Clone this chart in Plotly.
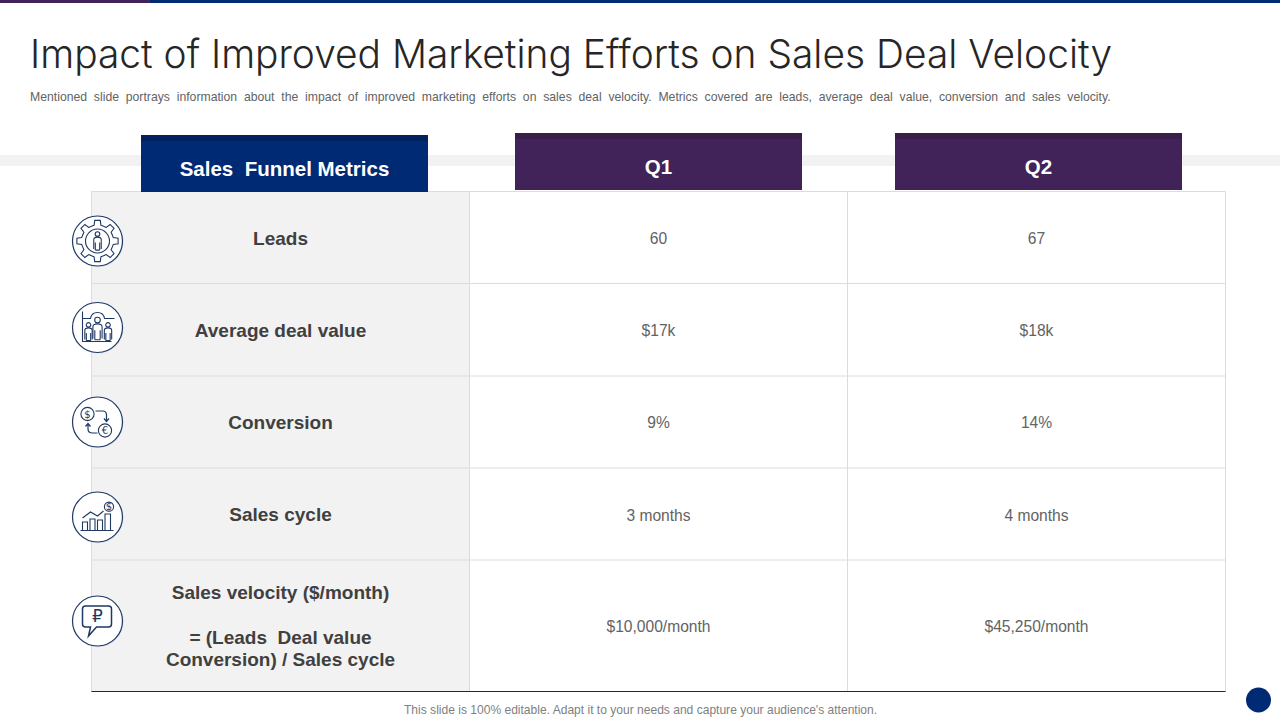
import math
import plotly.graph_objects as go

# ---- content ----
title = "Impact of Improved Marketing Efforts on Sales Deal Velocity"
subtitle = ("Mentioned  slide  portrays  information  about  the  impact  of  improved  marketing  efforts  on  sales  deal  "
            "velocity.  Metrics  covered  are  leads,  average  deal  value,  conversion  and  sales  velocity.")
footer = "This slide is 100% editable. Adapt it to your needs and capture your audience's attention."
headers = ["Sales  Funnel Metrics", "Q1", "Q2"]
metric_lines = ["Leads", "Average deal value", "Conversion", "Sales cycle",
                "Sales velocity ($/month)", "= (Leads  Deal value", "Conversion) / Sales cycle"]
q1_values = ["60", "$17k", "9%", "3 months", "$10,000/month"]
q2_values = ["67", "$18k", "14%", "4 months", "$45,250/month"]

# ---- layout geometry (pixels) ----
col_edges = [91.5, 469.5, 847.5, 1225.5]
row_edges = [191.5, 283.5, 376, 468, 560, 691.5]
label_y = [240, 332, 424, 516, 594, 639, 661]
value_y = [240, 332, 424, 517, 628]
header_boxes = [(141, 428, 135, 192), (515, 802, 133, 190), (895, 1182, 133, 190)]
icon_x = 97.5
icon_y = [241, 327.5, 422, 517, 621]

NAVY = "#012A74"
NAVY_DK = "#01225F"
PURPLE = "#412359"
PURPLE_DK = "#391E4C"
GREY = "#F2F2F2"
LINE = "#DCDCDC"
INK = "#1F3864"
VALUE_TEXT = "#636363"

shapes = []


def rect(x0, x1, y0, y1, fill, line=None, w=0):
    shapes.append(dict(type="rect", x0=x0, x1=x1, y0=y0, y1=y1, fillcolor=fill,
                       line=dict(color=line or fill, width=w), layer="below"))


def hline(x0, x1, y, color, w=1):
    shapes.append(dict(type="line", x0=x0, x1=x1, y0=y, y1=y, line=dict(color=color, width=w), layer="below"))


def vline(x, y0, y1, color, w=1):
    shapes.append(dict(type="line", x0=x, x1=x, y0=y0, y1=y1, line=dict(color=color, width=w), layer="below"))


def circ(cx, cy, r, fill="rgba(0,0,0,0)", line=INK, w=1.1, layer="above"):
    shapes.append(dict(type="circle", x0=cx - r, x1=cx + r, y0=cy - r, y1=cy + r, fillcolor=fill,
                       line=dict(color=line, width=w), layer=layer))


def path(cx, cy, cmds, w=1.1, fill="rgba(0,0,0,0)"):
    out = []
    for c in cmds:
        if isinstance(c, str):
            out.append(c)
        else:
            out.append(f"{cx + c[0]:.2f},{cy + c[1]:.2f}")
    shapes.append(dict(type="path", path=" ".join(out), fillcolor=fill, line=dict(color=INK, width=w), layer="above"))


def person(cx, cy, s=1.0, fill="rgba(0,0,0,0)"):
    circ(cx, cy - 6.6 * s, 2.1 * s, fill=fill)
    path(cx, cy, ["M", (-3.4 * s, 7 * s), "L", (-3.4 * s, -1.6 * s), "Q", (-3.4 * s, -3.8 * s), (0, -3.8 * s),
                  "Q", (3.4 * s, -3.8 * s), (3.4 * s, -1.6 * s), "L", (3.4 * s, 7 * s)], fill=fill)
    path(cx, cy, ["M", (-2 * s, 8 * s), "L", (-2 * s, 1 * s), "M", (2 * s, 8 * s), "L", (2 * s, 1 * s),
                  "M", (-2 * s, 8 * s), "L", (2 * s, 8 * s)], fill=fill)


# page furniture
rect(0, 150, 0, 3, PURPLE)
rect(150, 1280, 0, 3, NAVY)
rect(0, 1280, 155, 166, GREY)

# table body
rect(col_edges[0], col_edges[1], row_edges[0], row_edges[-1], GREY)
for y in row_edges[:-1]:
    hline(col_edges[0], col_edges[-1], y, LINE)
for x in col_edges:
    vline(x, row_edges[0], row_edges[-1], LINE)
hline(col_edges[0], col_edges[-1], row_edges[-1], "#14265C", 1)

# header blocks
for i, (x0, x1, y0, y1) in enumerate(header_boxes):
    rect(x0, x1, y0, y1, NAVY if i == 0 else PURPLE)
    rect(x0, x1, y0, y0 + 6, NAVY_DK if i == 0 else PURPLE_DK)

# badge bottom right
circ(1258.5, 700, 12.5, fill=NAVY, line=NAVY, w=0, layer="below")

# icon discs
for y in icon_y:
    circ(icon_x + 0.6, y + 0.6, 25.6, fill="rgba(200,215,240,0.45)", line="rgba(0,0,0,0)", w=0, layer="below")
    circ(icon_x, y, 25, fill="white", w=1.2, layer="below")

# icon 1: gear and person
cx, cy = icon_x, icon_y[0]
gear = []
teeth = 8
for k in range(teeth):
    a = 2 * math.pi * k / teeth - math.pi / 2
    step = 2 * math.pi / teeth
    pts = [(a - 0.27 * step, 16.2), (a - 0.17 * step, 20.8), (a + 0.17 * step, 20.8), (a + 0.27 * step, 16.2)]
    for j, (t, r) in enumerate(pts):
        gear += ["M" if (k == 0 and j == 0) else "L", (r * math.cos(t), r * math.sin(t))]
    t1, t2 = a + 0.27 * step, a + 0.73 * step
    tm = (t1 + t2) / 2
    gear += ["Q", (16.0 * math.cos(tm), 16.0 * math.sin(tm)), (16.2 * math.cos(t2), 16.2 * math.sin(t2))]
path(cx, cy, gear + ["Z"])
circ(cx, cy, 12)
person(cx, cy + 0.3, 1.1)

# icon 2: three people in a chart
cx, cy = icon_x, icon_y[1]
path(cx, cy, ["M", (-15, -16), "L", (-15, 14), "L", (14, 14)])
path(cx, cy, ["M", (-15, -9), "L", (-7, -9), "Q", (-6, -15), (0, -15), "Q", (6, -15), (7, -9), "L", (17, -9)])
person(cx, cy + 1.5, 1.35, fill="white")
person(cx - 9, cy + 4.5, 1.08, fill="white")
person(cx + 10.5, cy + 4.5, 1.08, fill="white")

# icon 3: currency exchange
cx, cy = icon_x, icon_y[2]
circ(cx - 10, cy - 8, 6.6)
circ(cx + 7.5, cy + 8.5, 6.6)
path(cx, cy, ["M", (-2, -11), "L", (5, -11), "Q", (9, -11), (9, -7), "L", (9, -1),
              "M", (6.5, -3.5), "L", (9, -0.5), "L", (11.5, -3.5)], w=1.2)
path(cx, cy, ["M", (0, 11), "L", (-5, 11), "Q", (-9.5, 11), (-9.5, 7), "L", (-9.5, 2),
              "M", (-12, 4.5), "L", (-9.5, 1.5), "L", (-7, 4.5)], w=1.2)

# icon 4: growing bars
cx, cy = icon_x, icon_y[3]
path(cx, cy, ["M", (-17, 13.5), "L", (16, 13.5)])
for x0, x1, top in [(-15, -10, 5), (-7.5, -2.5, 2), (0, 5, 3), (7.5, 13, -3)]:
    path(cx, cy, ["M", (x0, 13.5), "L", (x0, top), "L", (x1, top), "L", (x1, 13.5)])
path(cx, cy, ["M", (-15, 1), "L", (-7, -5), "L", (0, -1), "L", (6, -6)])
circ(cx + 11.5, cy - 10.3, 4.6)

# icon 5: speech bubble
cx, cy = icon_x, icon_y[4]
path(cx, cy, ["M", (-12, -15), "L", (11, -15), "Q", (14, -15), (14, -12), "L", (14, 3), "Q", (14, 6), (11, 6),
              "L", (-1, 6), "L", (-9, 15), "L", (-7, 6), "L", (-12, 6), "Q", (-15, 6), (-15, 3),
              "L", (-15, -12), "Q", (-15, -15), (-12, -15), "Z"], w=1.5)

fig = go.Figure()


def text_trace(x, y, text, size, color, family="Liberation Sans", bold=False):
    fig.add_trace(go.Scatter(
        x=x, y=y, text=text, mode="text", textposition="middle center", hoverinfo="skip", showlegend=False,
        textfont=dict(family=family, size=size, color=color, weight=700 if bold else 400)))


col_mid = [(col_edges[i] + col_edges[i + 1]) / 2 for i in range(3)]
text_trace([col_mid[0]] * len(metric_lines), label_y, metric_lines, 19, "#404040", bold=True)
text_trace([col_mid[1]] * 5, value_y, q1_values, 15.6, VALUE_TEXT)
text_trace([col_mid[2]] * 5, value_y, q2_values, 15.6, VALUE_TEXT)
text_trace([(b[0] + b[1]) / 2 for b in header_boxes], [170.5, 168.5, 168.5], headers, 20.5, "white", bold=True)
text_trace([icon_x - 10, icon_x + 7.5, icon_x + 11.5], [icon_y[2] - 7, icon_y[2] + 9.5, icon_y[3] - 9.5],
           ["$", "€", "$"], 10, INK, family="DejaVu Sans")
text_trace([icon_x], [icon_y[4] - 3.5], ["₽"], 17, INK, family="DejaVu Sans")

fig.update_layout(
    width=1280, height=720, margin=dict(l=0, r=0, t=0, b=0),
    paper_bgcolor="white", plot_bgcolor="white", showlegend=False,
    title=dict(text=title, x=30 / 1280, xanchor="left", y=1 - 54 / 720, yanchor="middle",
               font=dict(family="Inter", size=38.9, color="#262626", weight=300)),
    xaxis=dict(range=[0, 1280], visible=False, fixedrange=True),
    yaxis=dict(range=[720, 0], visible=False, fixedrange=True),
    shapes=shapes,
    annotations=[
        dict(x=28, y=97, xref="x", yref="y", xanchor="left", yanchor="middle", text=subtitle, showarrow=False,
             font=dict(family="Liberation Sans", size=12.23, color=VALUE_TEXT)),
        dict(x=640, y=710, xref="x", yref="y", xanchor="center", yanchor="middle", text=footer, showarrow=False,
             font=dict(family="Liberation Sans", size=12.05, color="#7F7F7F")),
    ],
)

fig.write_html("out.html", post_script="document.body.style.margin='0';", config={"displayModeBar": False})
